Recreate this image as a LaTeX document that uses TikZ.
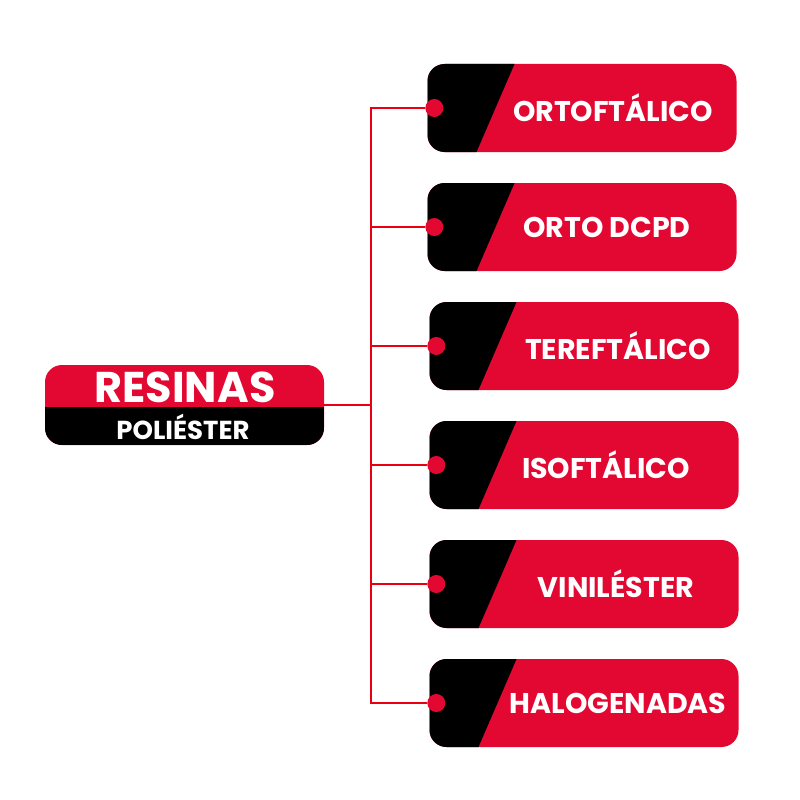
\documentclass[tikz,border=0pt]{standalone}
\usepackage{fontspec}
\setmainfont{Poppins}
\usepackage{tikz}
\usetikzlibrary{calc,positioning}
\usepackage{xcolor}
\definecolor{resinred}{RGB}{226,8,50}
\definecolor{resinline}{RGB}{232,0,18}
\definecolor{resinblack}{RGB}{0,0,0}

\begin{document}
\begin{tikzpicture}[x=1pt,y=-1pt,
  typebox/.style={rounded corners=17pt,fill=resinred,minimum width=309pt,minimum height=88pt,inner sep=0pt,
    path picture={\fill[resinblack,sharp corners] (path picture bounding box.north west) -- ([xshift=87pt]path picture bounding box.north west)
      -- ([xshift=49pt]path picture bounding box.south west) -- (path picture bounding box.south west) -- cycle;}},
  typelabel/.style={text=white,font=\bfseries\fontsize{28.5}{28.5}\selectfont,inner sep=0pt},
  dot/.style={circle,fill=resinred,minimum size=18pt,inner sep=0pt},
  link/.style={resinline,line width=2.4pt}]
  \useasboundingbox (0,0) rectangle (800,800);
  % main node
  \node[rounded corners=17pt,fill=resinred,minimum width=279pt,minimum height=80pt,inner sep=0pt,
    path picture={\fill[resinblack,sharp corners] ([yshift=-42pt]path picture bounding box.north west) rectangle (path picture bounding box.south east);}]
    (res) at (184.5,405) {};
  \node[text=white,font=\bfseries\fontsize{43}{43}\selectfont,inner sep=0pt] (resT) at (185,387) {RESINAS};
  \node[text=white,font=\bfseries\fontsize{26}{26}\selectfont,inner sep=0pt] (resS) at (183,427) {POLIÉSTER};
  \coordinate (bus) at (371,405);
  % branches
  \foreach \i/\bx/\by/\tx/\txt in {1/582/108/613/ORTOFTÁLICO,2/582/227/607/ORTO DCPD,3/584/346/618/TEREFTÁLICO,
    4/584/465/606/ISOFTÁLICO,5/584/584/616/VINILÉSTER,6/584/703/618/HALOGENADAS}{
    \node[typebox] (b\i) at (\bx,\by) {};
    \node[typelabel] (t\i) at (\tx,\by) {\txt};
    \node[dot] (d\i) at ([xshift=7pt]b\i.west) {};
    \draw[link] (bus |- d\i) -- (d\i.west);
  }
  \draw[link] (res.east) -- (bus);
  \draw[link] ([yshift=1.2pt]bus |- d1) -- ([yshift=-1.2pt]bus |- d6);
\end{tikzpicture}
\end{document}
